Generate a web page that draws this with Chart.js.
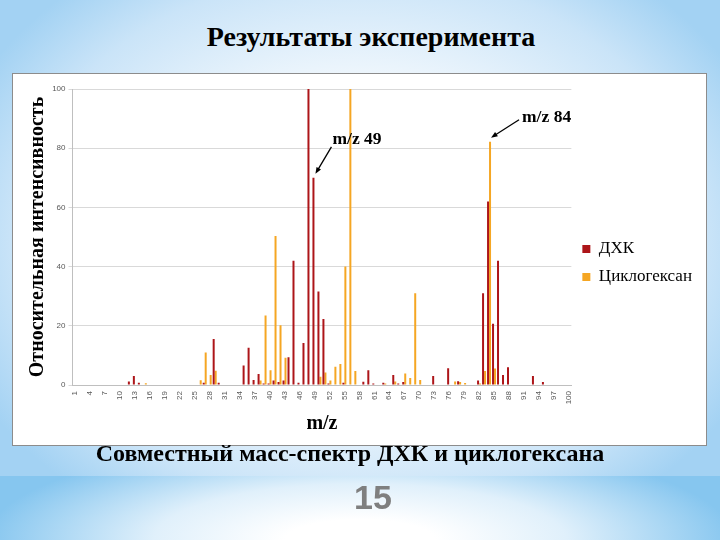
<!DOCTYPE html>
<html>
<head>
<meta charset="utf-8">
<script src="https://cdn.jsdelivr.net/npm/chart.js@4.4.0/dist/chart.umd.min.js"></script>
<style>
  html, body { margin: 0; padding: 0; }
  body { width: 720px; height: 540px; position: relative; overflow: hidden; background: #fff; }
  .bgTop { position: absolute; left: 0; top: 0; width: 720px; height: 476px;
    background: radial-gradient(ellipse 60% 70% at 50% 50%, #ffffff 0%, #f2f8fd 45%, #cae4f8 80%, #a3d2f3 100%); }
  .bgBottom { position: absolute; left: 0; top: 476px; width: 720px; height: 64px;
    background: radial-gradient(ellipse 52% 160% at 50% 100%, #ffffff 20%, #e0f0fb 55%, #86c6ef 100%); }
  .title { position: absolute; left: 0; top: 21px; width: 742px; text-align: center;
    font: bold 28px 'Liberation Serif', serif; color: #000; }
  .box { position: absolute; left: 12px; top: 73px; width: 693px; height: 371px;
    background: #fff; border: 1px solid #8c8c8c; }
  .box canvas { position: absolute; left: 0; top: 0; }
  .caption { position: absolute; left: 0; top: 440px; width: 700px; text-align: center;
    font: bold 24px 'Liberation Serif', serif; color: #000; }
  .pageNum { position: absolute; left: 0; top: 478px; width: 746px; text-align: center;
    font: bold 34px 'Liberation Sans Narrow', 'Liberation Sans', sans-serif; color: #7f7f7f; }
</style>
</head>
<body>
<div class="bgTop"></div>
<div class="bgBottom"></div>
<div class="title">Результаты эксперимента</div>
<div class="box"><canvas id="myChart" width="693" height="371"></canvas></div>
<div class="caption">Совместный масс-спектр ДХК и циклогексана</div>
<div class="pageNum">15</div>
<script>
const seriesNames = ['ДХК', 'Циклогексан'];
const dhkMz  = [12, 13, 14, 27, 29, 30, 35, 36, 37, 38, 39, 40, 41, 42, 43, 44, 45, 46, 47, 48, 49, 50, 51, 52, 55, 59, 60, 61, 63, 65, 66, 67, 73, 76, 78, 82, 83, 84, 85, 86, 87, 88, 93, 95];
const dhkVal = [1.2, 3, 0.8, 0.8, 15.5, 0.8, 6.6, 12.6, 1.7, 3.7, 0.5, 0.5, 1.5, 1, 1.5, 9.4, 42, 0.8, 14.2, 100, 70, 31.6, 22.3, 0.5, 0.8, 1.1, 5, 0.5, 0.8, 3.4, 0.5, 1, 3, 5.7, 1.3, 1.5, 31, 62, 20.7, 42, 3.4, 6, 3, 1];
const cycMz  = [15, 26, 27, 28, 29, 38, 39, 40, 41, 42, 43, 50, 51, 52, 53, 54, 55, 56, 57, 63, 65, 67, 68, 69, 70, 77, 78, 79, 82, 83, 84, 85];
const cycVal = [0.6, 1.6, 11, 3.4, 4.8, 1.5, 23.5, 5, 50.3, 20.2, 9.2, 2.8, 4.2, 1.5, 6.2, 7.1, 40, 100, 4.7, 0.5, 1.2, 3.9, 2.4, 31, 1.7, 1.2, 1, 0.7, 0.5, 4.7, 82.2, 5.6];
const xTickLabels = ['1', '4', '7', '10', '13', '16', '19', '22', '25', '28', '31', '34', '37', '40', '43', '46', '49', '52', '55', '58', '61', '64', '67', '70', '73', '76', '79', '82', '85', '88', '91', '94', '97', '100'];
const yTicks = [0, 20, 40, 60, 80, 100];
const mzFirst = 1;
const mzLast = 100;
const callouts = [
    { text: 'm/z 49', dataset: 0, mz: 49, headDx: 2, headDy: -4, tailDx: 16, tailDy: -27, textDx: 17, textDy: -34 },
    { text: 'm/z 84', dataset: 1, mz: 84, headDx: 1, headDy: -4, tailDx: 28, tailDy: -18, textDx: 31, textDy: -20 }
];

const labels = [];
for (let m = mzFirst; m <= mzLast; m++) labels.push(String(m));

function buildSeries(mzList, valList) {
    const arr = labels.map(() => 0);
    mzList.forEach((mz, i) => { arr[labels.indexOf(String(mz))] = valList[i]; });
    return arr;
}

function drawArrow(ctx, x1, y1, x2, y2) {
    const ang = Math.atan2(y2 - y1, x2 - x1);
    const len = 7;
    ctx.beginPath();
    ctx.moveTo(x1, y1);
    ctx.lineTo(x2 - Math.cos(ang) * 4, y2 - Math.sin(ang) * 4);
    ctx.stroke();
    ctx.beginPath();
    ctx.moveTo(x2, y2);
    ctx.lineTo(x2 - len * Math.cos(ang - 0.38), y2 - len * Math.sin(ang - 0.38));
    ctx.lineTo(x2 - len * Math.cos(ang + 0.38), y2 - len * Math.sin(ang + 0.38));
    ctx.closePath();
    ctx.fill();
}

const calloutPlugin = {
    id: 'callouts',
    afterDatasetsDraw(chart) {
        const ctx = chart.ctx;
        ctx.save();
        ctx.strokeStyle = '#000';
        ctx.fillStyle = '#000';
        ctx.lineWidth = 1.3;
        ctx.font = 'bold 17.5px "Liberation Serif", serif';
        ctx.textBaseline = 'middle';
        callouts.forEach(c => {
            const bar = chart.getDatasetMeta(c.dataset).data[labels.indexOf(String(c.mz))];
            const hx = bar.x + c.headDx, hy = bar.y + c.headDy;
            drawArrow(ctx, hx + c.tailDx, hy + c.tailDy, hx, hy);
            ctx.fillText(c.text, hx + c.textDx, hy + c.textDy);
        });
        ctx.restore();
    }
};

const tickFont = { family: 'Liberation Sans', size: 8 };
const titleFont = { family: 'Liberation Serif', size: 20, weight: 'bold' };

const ctx = document.getElementById('myChart');
const myChart = new Chart(ctx, {
    type: 'bar',
    data: {
        labels: labels,
        datasets: [{
            label: seriesNames[0],
            data: buildSeries(dhkMz, dhkVal),
            backgroundColor: '#ad1519',
            borderWidth: 0,
            categoryPercentage: 0.8,
            barPercentage: 1
        }, {
            label: seriesNames[1],
            data: buildSeries(cycMz, cycVal),
            backgroundColor: '#f5a623',
            borderWidth: 0,
            categoryPercentage: 0.8,
            barPercentage: 1
        }]
    },
    options: {
        responsive: false,
        animation: false,
        layout: { padding: { top: 15, right: 4, bottom: 8, left: 0 } },
        plugins: {
            tooltip: { enabled: false },
            legend: {
                position: 'right',
                labels: {
                    boxWidth: 8,
                    boxHeight: 8,
                    padding: 11,
                    color: '#000',
                    font: { family: 'Liberation Serif', size: 17 }
                }
            }
        },
        scales: {
            x: {
                grid: { display: false, tickLength: 4 },
                border: { display: true, color: '#bfbfbf' },
                ticks: {
                    autoSkip: false,
                    maxRotation: 90,
                    minRotation: 90,
                    padding: 2,
                    color: '#595959',
                    font: tickFont,
                    callback: function (value) {
                        const lab = this.getLabelForValue(value);
                        return xTickLabels.includes(lab) ? lab : '';
                    }
                },
                title: { display: true, text: 'm/z', color: '#000', font: titleFont, padding: { top: 0, bottom: 1 } },
                afterFit: (scale) => { scale.height = 52; }
            },
            y: {
                min: yTicks[0],
                max: yTicks[yTicks.length - 1],
                afterBuildTicks: (scale) => { scale.ticks = yTicks.map(v => ({ value: v })); },
                grid: { color: '#d9d9d9', tickLength: 4 },
                border: { display: true, color: '#bfbfbf' },
                ticks: { padding: 3, color: '#595959', font: tickFont },
                title: { display: true, text: 'Относительная интенсивность', color: '#000', font: titleFont, padding: { top: 13, bottom: 0 } },
                afterFit: (scale) => { scale.width = 59.5; }
            }
        }
    },
    plugins: [calloutPlugin]
});
</script>
</body>
</html>
